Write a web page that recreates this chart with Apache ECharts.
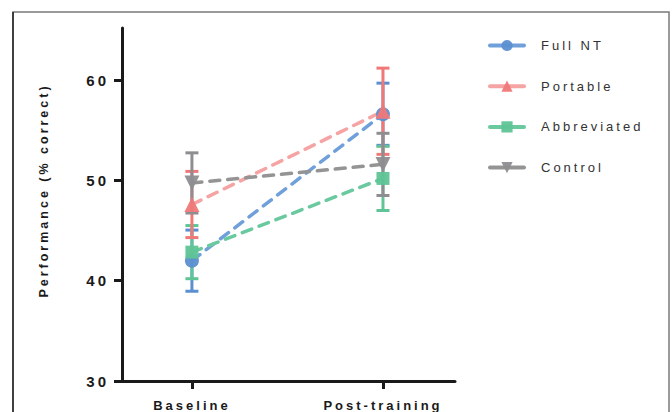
<!DOCTYPE html>
<html>
<head>
<meta charset="utf-8">
<script src="https://cdn.jsdelivr.net/npm/echarts@6/dist/echarts.min.js"></script>
<style>
html,body{margin:0;padding:0;background:#fff;}
#chart{width:672px;height:412px;}
#chart svg text{letter-spacing:3px;}
</style>
</head>
<body>
<div id="chart"></div>
<script>
// ---- data ----
const categories = ['Baseline', 'Post-training'];
const legendNames = ['Full NT', 'Portable', 'Abbreviated', 'Control'];
const fullNTMean = [42.0, 56.6];
const fullNTErr = [3.05, 3.1];
const portableMean = [47.6, 56.9];
const portableErr = [3.3, 4.3];
const abbreviatedMean = [42.85, 50.2];
const abbreviatedErr = [2.65, 3.2];
const controlMean = [49.75, 51.6];
const controlErr = [3.0, 3.1];
const yTicks = [30, 40, 50, 60];
const yTitle = 'Performance (% correct)';

// ---- styles ----
const groups = [
  {name: 'Full NT', mean: fullNTMean, err: fullNTErr, color: '#5b8fd1', line: '#6fa0da', symbol: 'circle', size: 14},
  {name: 'Abbreviated', mean: abbreviatedMean, err: abbreviatedErr, color: '#5fc496', line: '#6bc9a0', symbol: 'rect', size: 13},
  {name: 'Portable', mean: portableMean, err: portableErr, color: '#f07878', line: '#f6a3a3', symbol: 'triangle', size: 15},
  {name: 'Control', mean: controlMean, err: controlErr, color: '#8e8e92', line: '#949494', symbol: 'path://M0,0 L10,0 L5,9 Z', size: 15}
];

const series = [];
groups.forEach(g => {
  series.push({
    type: 'line',
    name: g.name,
    data: g.mean.map((v, i) => [i, v]),
    symbol: g.symbol,
    symbolSize: g.size,
    itemStyle: {color: g.color, opacity: 0.95},
    lineStyle: {color: g.line, width: 3.5, type: [10, 8], cap: 'round'},
    emphasis: {disabled: true},
    animation: false
  });
  series.push({
    type: 'custom',
    name: g.name + ' SEM',
    data: g.mean.map((v, i) => [i, v - g.err[i], v + g.err[i]]),
    encode: {x: 0, y: [1, 2]},
    animation: false,
    renderItem: function (params, api) {
      const x = api.value(0);
      const top = api.coord([x, api.value(2)]);
      const bot = api.coord([x, api.value(1)]);
      const hw = 6.5;
      const st = {stroke: g.color, lineWidth: 3};
      return {
        type: 'group',
        children: [
          {type: 'line', shape: {x1: top[0], y1: top[1], x2: bot[0], y2: bot[1]}, style: st},
          {type: 'line', shape: {x1: top[0] - hw, y1: top[1], x2: top[0] + hw, y2: top[1]}, style: st},
          {type: 'line', shape: {x1: bot[0] - hw, y1: bot[1], x2: bot[0] + hw, y2: bot[1]}, style: st}
        ]
      };
    }
  });
});

const chart = echarts.init(document.getElementById('chart'), null, {renderer: 'svg'});
chart.setOption({
  backgroundColor: '#fff',
  animation: false,
  textStyle: {fontFamily: 'Liberation Sans, Arial, sans-serif'},
  grid: {left: 122, top: 28, right: 217, bottom: 31, containLabel: false, outerBoundsMode: 'none'},
  xAxis: {
    type: 'value',
    min: -0.366,
    max: 1.377,
    splitLine: {show: false},
    axisLine: {onZero: false, lineStyle: {color: '#1a1a1a', width: 3}},
    axisTick: {show: true, customValues: [0, 1], length: 8, lineStyle: {color: '#1a1a1a', width: 3}},
    axisLabel: {
      customValues: [0, 1],
      formatter: v => categories[Math.round(v)],
      color: '#1a1a1a', fontWeight: 'bold', fontSize: 13, lineHeight: 13, margin: 18
    }
  },
  yAxis: {
    type: 'value',
    min: 30,
    max: 65.2,
    splitLine: {show: false},
    axisLine: {show: true, onZero: false, lineStyle: {color: '#1a1a1a', width: 3}},
    axisTick: {show: true, customValues: yTicks, length: 8, lineStyle: {color: '#1a1a1a', width: 3}},
    axisLabel: {customValues: yTicks, color: '#1a1a1a', fontWeight: 'bold', fontSize: 15, margin: 13},
    name: yTitle,
    nameLocation: 'middle',
    nameGap: 72,
    nameTextStyle: {color: '#1a1a1a', fontWeight: 'bold', fontSize: 12.5, padding: [0, 0, 0, 28]}
  },
  legend: {
    orient: 'vertical',
    left: 488,
    top: 39,
    padding: 0,
    data: legendNames,
    itemWidth: 34,
    itemHeight: 14,
    itemGap: 27.7,
    selectedMode: false,
    lineStyle: {type: 'solid', width: 4},
    textStyle: {color: '#333', fontSize: 13, padding: [0, 0, 0, 12]}
  },
  graphic: [
    {type: 'rect', silent: true, z: -10, shape: {x: 13, y: 12, width: 656, height: 430},
     style: {fill: 'none', stroke: '#7a7a7a', lineWidth: 1.5}},
    {type: 'line', silent: true, z: -9, shape: {x1: 13, y1: 12, x2: 13, y2: 420},
     style: {stroke: '#222', lineWidth: 1.5}}
  ],
  series: series
});
</script>
</body>
</html>
